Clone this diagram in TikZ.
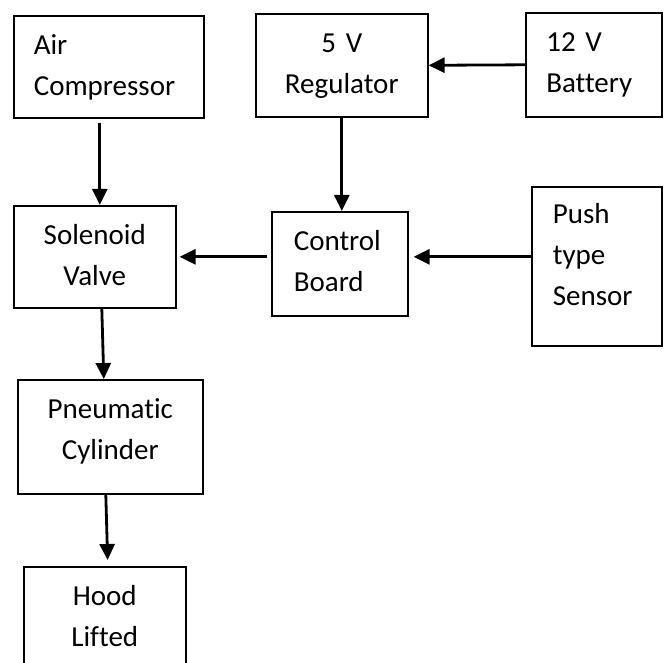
\documentclass[tikz,border=0pt]{standalone}
\usepackage{fontspec}
\setmainfont[Ligatures=NoCommon]{Carlito}
\usepackage{tikz}
\usetikzlibrary{arrows.meta}

\begin{document}
\begin{tikzpicture}[x=1pt,y=-1pt,
    blk/.style={draw, line width=1.6pt, anchor=north west, inner xsep=20pt, inner ysep=0pt,
      text height=39pt, font=\fontsize{29}{41}\selectfont},
    arr/.style={-{Triangle[length=16pt,width=15pt]}, line width=2.8pt}]
  % page size
  \path[use as bounding box, clip] (0,0) rectangle (667,663);

  % Draw boxes
  \node[blk, align=left, text width=150pt, text depth=63pt] (air) at (13,15) {Air\\Compressor};
  \node[blk, align=center, text width=132pt, text depth=64pt] (reg) at (255,13) {5 V\\Regulator};
  \node[blk, align=left, text width=95pt, text depth=65pt, inner xsep=20.5pt] (bat) at (525,12) {12 V\\Battery};
  \node[blk, align=center, text width=122pt, text depth=63pt] (sol) at (13,205) {Solenoid\\Valve};
  \node[blk, align=left, text width=92pt, text depth=65pt, inner xsep=22pt] (ctl) at (271,211) {Control\\Board};
  \node[blk, align=left, text width=88pt, text height=37pt, text depth=122pt, inner xsep=21pt] (sen) at (531,186) {Push\\type\\Sensor};
  \node[blk, align=center, text width=145pt, text depth=75pt] (pne) at (17,379) {Pneumatic\\Cylinder};
  \node[blk, align=center, text width=122pt, text depth=71pt] (hood) at (23,566) {Hood\\Lifted};

  % Draw arrows
  \draw[arr, shorten <=4pt] ([xshift=-9pt]air.south) -- ([xshift=-9pt]air.south |- sol.north);
  \draw[arr] (reg.south) -- (reg.south |- ctl.north);
  \draw[arr] (bat.west) -- (reg.east);
  \draw[arr, shorten <=4pt, shorten >=3pt] (ctl.west |- sol.east) -- (sol.east);
  \draw[arr, shorten >=5pt] (sen.west |- sol.east) -- (ctl.east |- sol.east);
  \draw[arr] ([xshift=7pt]sol.south) -- ([xshift=-6.5pt]pne.north);
  \draw[arr, shorten >=6pt] ([xshift=-4.5pt]pne.south) -- ([xshift=3pt]hood.north);
\end{tikzpicture}
\end{document}
